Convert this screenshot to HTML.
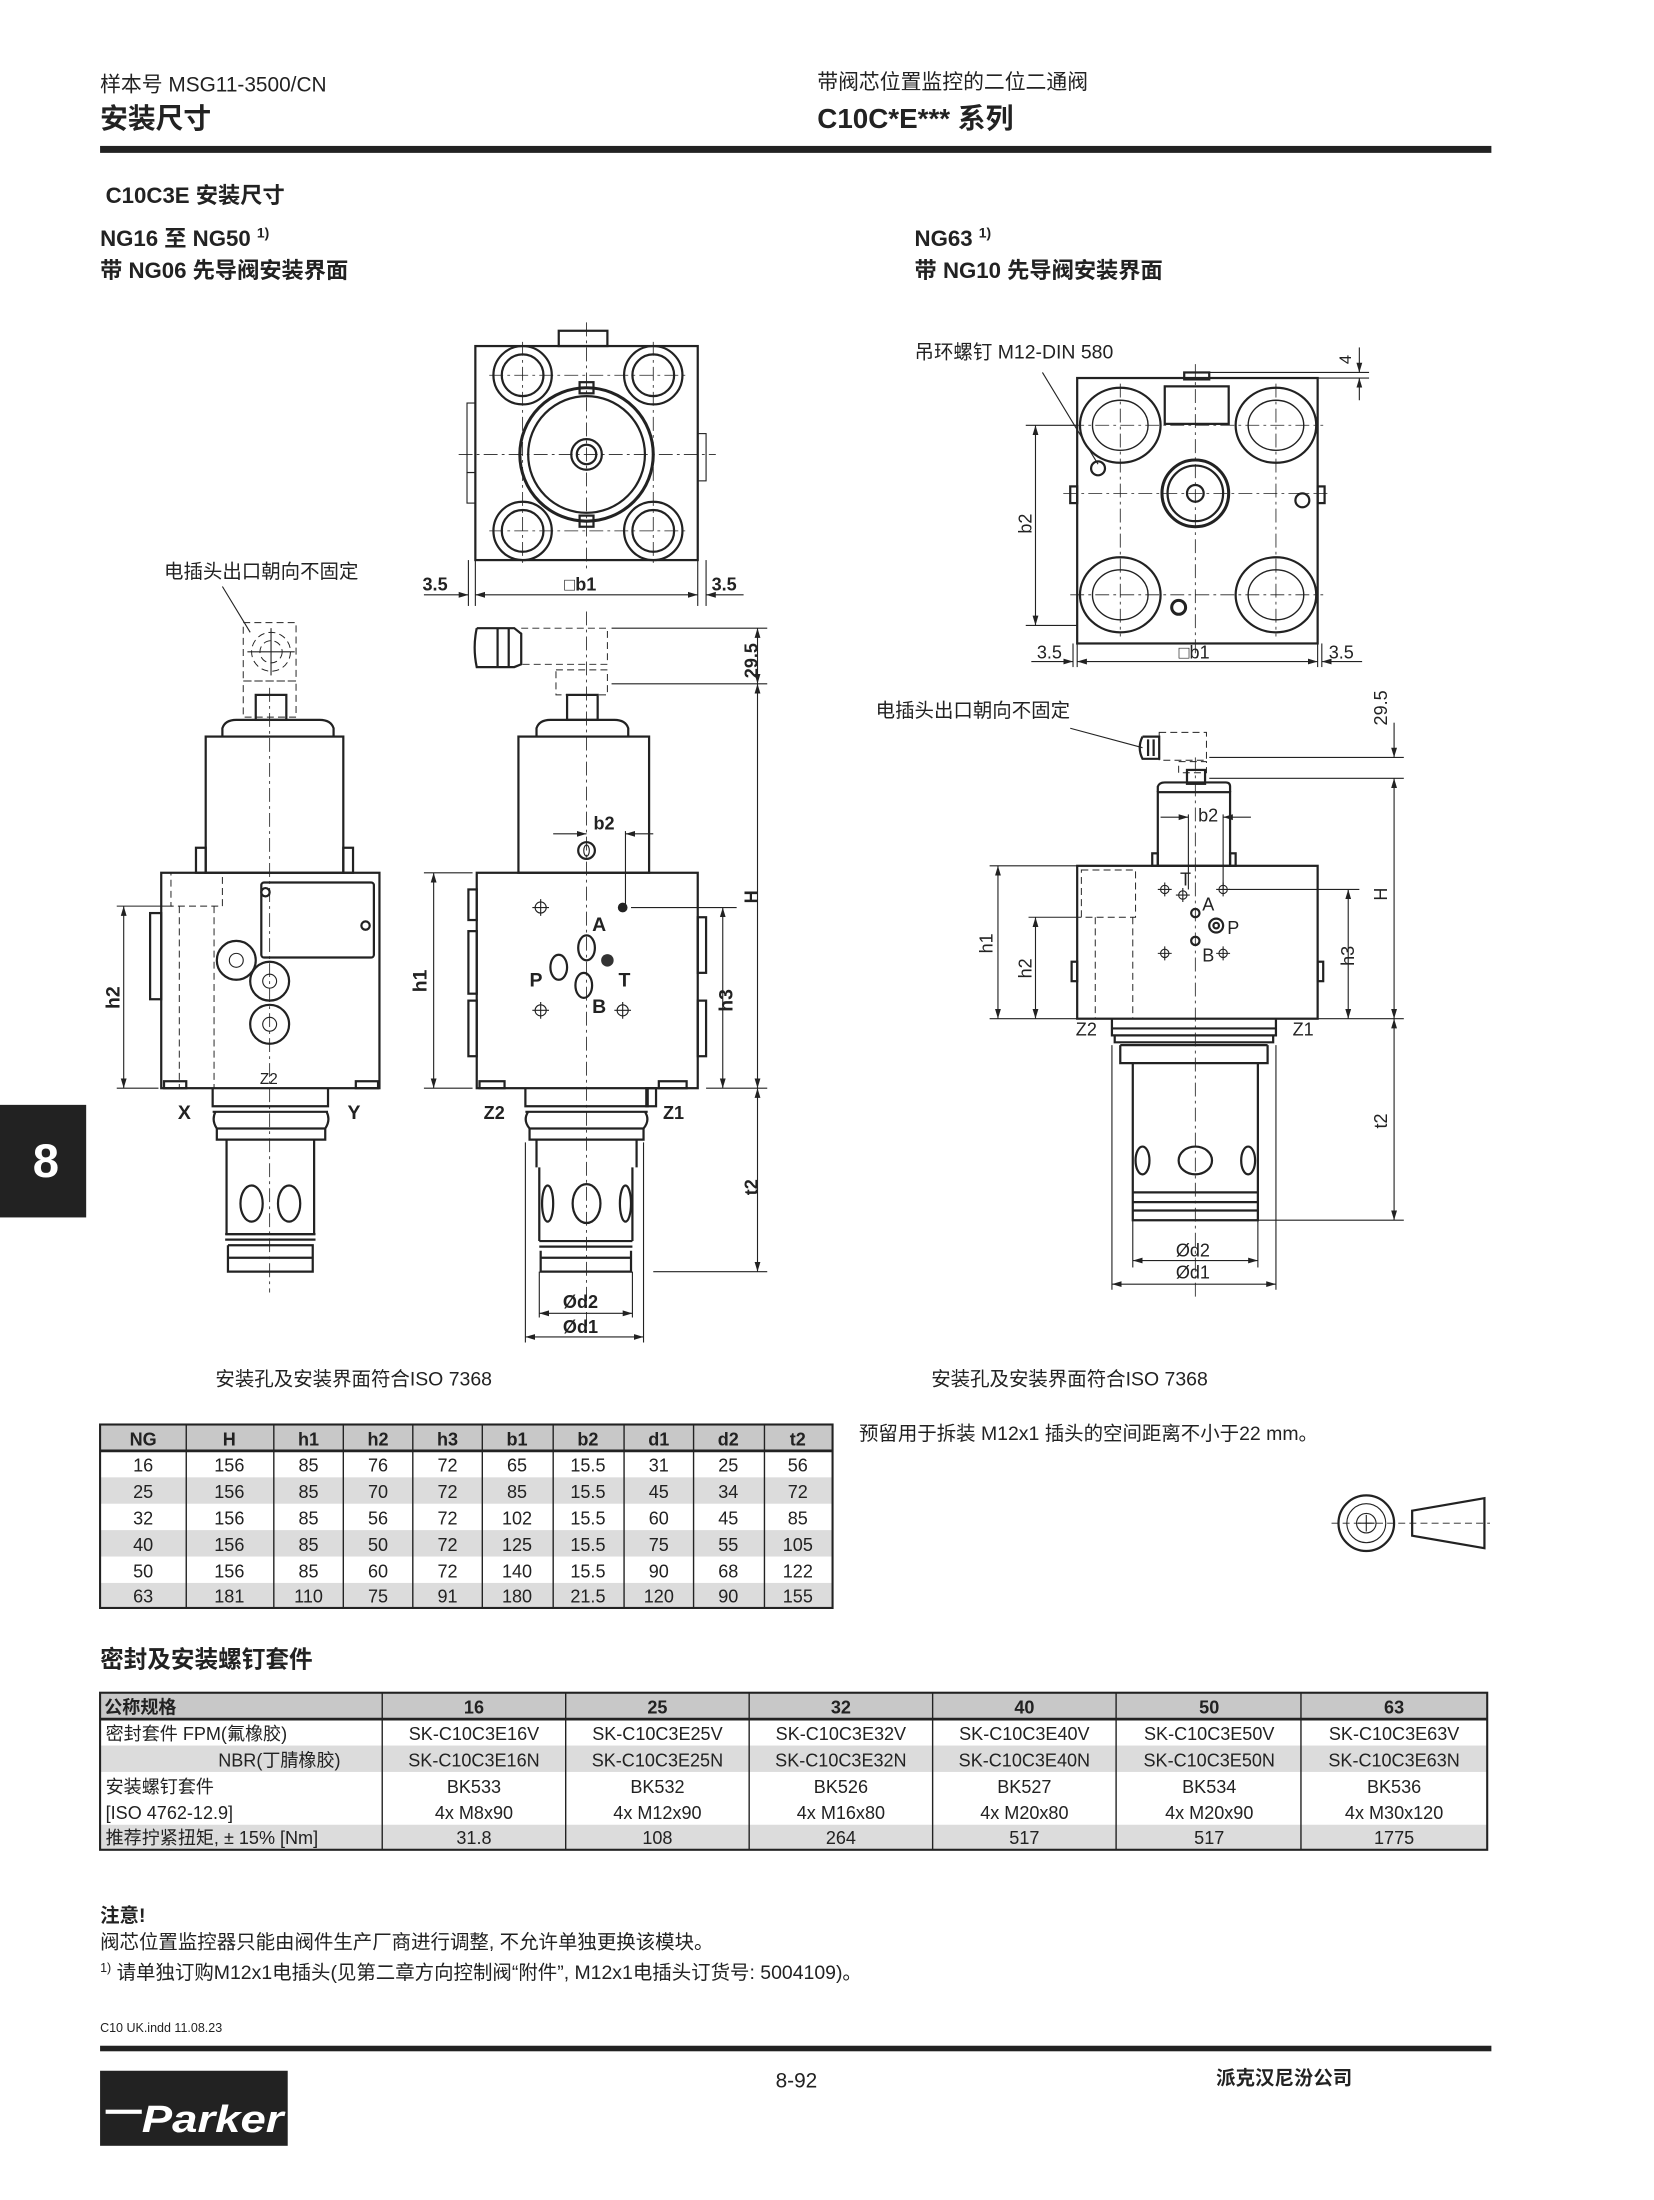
<!DOCTYPE html>
<html><head><meta charset="utf-8"><style>
html,body{margin:0;padding:0;background:#fff;}
svg{display:block;}
text{font-family:"Liberation Sans","Noto Sans CJK SC",sans-serif;fill:#222;}
.b{font-weight:bold;}
.o{fill:none;stroke:#222;stroke-width:1.6;}
.t{fill:none;stroke:#222;stroke-width:0.8;}
.d{fill:none;stroke:#222;stroke-width:0.7;stroke-dasharray:5 3;}
.c{fill:none;stroke:#222;stroke-width:0.6;stroke-dasharray:10 3 2 3;}
.tb text{font-size:13px;text-anchor:middle;}
</style></head><body>
<svg width="1654" height="2200" viewBox="0 0 1190 1583" preserveAspectRatio="none" xmlns="http://www.w3.org/2000/svg">
<defs>
<marker id="a" viewBox="0 0 10 10" refX="10" refY="5" markerWidth="7" markerHeight="7" orient="auto-start-reverse" markerUnits="userSpaceOnUse"><path d="M0,2 L10,5 L0,8z" fill="#222"/></marker>
</defs>
<!-- header -->
<text x="72" y="66" font-size="15">样本号 MSG11-3500/CN</text>
<text x="72" y="92" font-size="20" class="b">安装尺寸</text>
<text x="588" y="64" font-size="15">带阀芯位置监控的二位二通阀</text>
<text x="588" y="92" font-size="20" class="b">C10C*E*** 系列</text>
<rect x="72" y="105" width="1001" height="5" fill="#222"/>
<text x="76" y="146" font-size="16" class="b">C10C3E 安装尺寸</text>
<text x="72" y="177" font-size="16" class="b">NG16 至 NG50 <tspan font-size="10" dy="-6">1)</tspan></text>
<text x="72" y="200" font-size="16" class="b">带 NG06 先导阀安装界面</text>
<text x="658" y="177" font-size="16" class="b">NG63 <tspan font-size="10" dy="-6">1)</tspan></text>
<text x="658" y="200" font-size="16" class="b">带 NG10 先导阀安装界面</text>

<!-- LEFT TOP VIEW -->
<rect class="o" x="342" y="249" width="160" height="154"/>
<rect class="o" x="402" y="238" width="35" height="11"/>
<rect class="t" x="336" y="290" width="6" height="50"/><rect class="t" x="336" y="340" width="6" height="22"/>
<rect class="t" x="502" y="312" width="6" height="34"/>
<g class="o">
<circle cx="376" cy="270" r="21"/><circle cx="470" cy="270" r="21"/><circle cx="376" cy="382" r="21"/><circle cx="470" cy="382" r="21"/>
<circle cx="376" cy="270" r="15"/><circle cx="470" cy="270" r="15"/><circle cx="376" cy="382" r="15"/><circle cx="470" cy="382" r="15"/>
<circle cx="422" cy="327" r="48" stroke-width="2.2"/><circle cx="422" cy="327" r="42"/><circle cx="422" cy="327" r="11"/><circle cx="422" cy="327" r="7"/>
</g>
<rect class="o" x="417" y="275" width="10" height="8"/><rect class="o" x="417" y="371" width="10" height="8"/>
<line class="c" x1="422" y1="232" x2="422" y2="412"/><line class="c" x1="330" y1="327" x2="515" y2="327"/>
<line class="c" x1="352" y1="270" x2="494" y2="270"/><line class="c" x1="352" y1="382" x2="494" y2="382"/>
<line class="c" x1="376" y1="246" x2="376" y2="406"/><line class="c" x1="470" y1="246" x2="470" y2="406"/>
<g class="t"><line x1="337" y1="403" x2="337" y2="436"/><line x1="342" y1="403" x2="342" y2="436"/><line x1="502" y1="403" x2="502" y2="436"/><line x1="508" y1="403" x2="508" y2="436"/>
<line x1="305" y1="428" x2="337" y2="428" marker-end="url(#a)"/><line x1="342" y1="428" x2="502" y2="428" marker-start="url(#a)" marker-end="url(#a)"/><line x1="535" y1="428" x2="508" y2="428" marker-end="url(#a)"/></g>
<text x="304" y="425" font-size="13" class="b">3.5</text><text x="406" y="425" font-size="13" class="b">□b1</text><text x="512" y="425" font-size="13" class="b">3.5</text>

<!-- LEFT SIDE VIEW -->
<text x="118" y="416" font-size="14">电插头出口朝向不固定</text>
<line class="t" x1="160" y1="422" x2="180" y2="455"/>
<rect class="d" x="175" y="448" width="38" height="42"/><rect class="d" x="175" y="490" width="38" height="26"/>
<circle class="d" cx="195" cy="469" r="14"/><circle class="d" cx="195" cy="469" r="8"/>
<line class="t" x1="178" y1="469" x2="212" y2="469"/><line class="t" x1="195" y1="452" x2="195" y2="486"/>
<rect class="o" x="184" y="500" width="22" height="18"/>
<path class="o" d="M160,530 L160,524 Q162,518 170,518 L230,518 Q238,518 240,524 L240,530"/>
<rect class="o" x="148" y="530" width="99" height="98"/>
<rect class="o" x="141" y="610" width="7" height="18"/><rect class="o" x="247" y="610" width="7" height="18"/>
<rect class="o" x="116" y="628" width="157" height="155" stroke-width="2"/>
<rect class="o" x="108" y="657" width="8" height="62"/>
<rect class="d" x="123" y="628" width="37" height="24"/>
<line class="d" x1="129" y1="652" x2="129" y2="783"/><line class="d" x1="154" y1="652" x2="154" y2="783"/>
<rect class="o" x="188" y="635" width="81" height="54" rx="2"/>
<circle class="o" cx="191" cy="642" r="3"/><circle class="o" cx="263" cy="666" r="3"/>
<circle class="o" cx="170" cy="691" r="14" stroke-width="2"/><circle class="o" cx="194" cy="706" r="14" stroke-width="2"/><circle class="o" cx="194" cy="737" r="14" stroke-width="2"/>
<circle class="t" cx="170" cy="691" r="5"/><circle class="t" cx="194" cy="706" r="5"/><circle class="t" cx="194" cy="737" r="5"/>
<rect class="o" x="118" y="778" width="16" height="5"/><rect class="o" x="256" y="778" width="16" height="5"/>
<text x="187" y="780" font-size="11">Z2</text>
<line class="c" x1="194" y1="495" x2="194" y2="930"/>
<g class="t"><line x1="84" y1="652" x2="124" y2="652"/><line x1="84" y1="783" x2="114" y2="783"/>
<line x1="89" y1="652" x2="89" y2="783" marker-start="url(#a)" marker-end="url(#a)"/></g>
<text transform="translate(86,726) rotate(-90)" font-size="14" class="b">h2</text>
<!-- cartridge left -->
<path class="o" d="M153,783 L153,796 L236,796 L236,783 M153,800 L236,800 M155,800 Q152,806 156,812 L156,820 L234,820 L234,812 Q238,806 235,800 M156,812 L234,812"/>
<path class="o" d="M163,820 L163,888 L226,888 L226,820"/>
<ellipse class="o" cx="181" cy="866" rx="8" ry="13"/><ellipse class="o" cx="208" cy="866" rx="8" ry="13"/>
<path class="o" d="M162,888 L227,888 M162,892 L227,892 M164,896 L164,915 L225,915 L225,896 L164,896 M164,905 L225,905"/>
<text x="128" y="805" font-size="14" class="b">X</text><text x="250" y="805" font-size="14" class="b">Y</text>

<!-- MIDDLE FRONT VIEW -->
<path class="o" d="M343,452 L370,452 L375,456 L375,478 L370,480 L343,480 Q340,466 343,452 M358,452 L358,480 M366,452 L366,480"/>
<rect class="d" x="375" y="452" width="62" height="26"/><rect class="d" x="400" y="482" width="37" height="18"/>
<rect class="o" x="408" y="500" width="22" height="18"/>
<path class="o" d="M386,530 L386,524 Q388,518 396,518 L442,518 Q450,518 452,524 L452,530"/>
<rect class="o" x="373" y="530" width="94" height="98"/>
<circle class="o" cx="422" cy="612" r="6"/><ellipse class="t" cx="422" cy="612" rx="2" ry="4"/>
<rect class="o" x="343" y="628" width="159" height="155" stroke-width="2"/>
<rect class="o" x="337" y="640" width="6" height="22"/><rect class="o" x="337" y="670" width="6" height="45"/><rect class="o" x="337" y="720" width="6" height="40"/>
<rect class="o" x="502" y="660" width="6" height="40"/><rect class="o" x="502" y="720" width="6" height="40"/>
<rect class="o" x="345" y="778" width="18" height="5"/><rect class="o" x="474" y="778" width="20" height="5"/>
<circle class="t" cx="389" cy="653" r="4"/><path class="t" d="M383,653 h12 M389,647 v12"/>
<circle cx="448" cy="653" r="3.5" fill="#222"/>
<circle class="t" cx="389" cy="727" r="4"/><path class="t" d="M383,727 h12 M389,721 v12"/>
<circle class="t" cx="448" cy="727" r="4"/><path class="t" d="M442,727 h12 M448,721 v12"/>
<ellipse class="o" cx="422" cy="682" rx="6" ry="9"/><ellipse class="o" cx="402" cy="696" rx="6" ry="9"/>
<ellipse class="o" cx="420" cy="709" rx="6" ry="9"/><circle cx="437" cy="691" r="4.5" fill="#333"/>
<text x="426" y="670" font-size="14" class="b">A</text><text x="381" y="710" font-size="14" class="b">P</text>
<text x="445" y="710" font-size="14" class="b">T</text><text x="426" y="729" font-size="14" class="b">B</text>
<line class="c" x1="422" y1="440" x2="422" y2="960"/>
<g class="t"><line x1="450" y1="598" x2="450" y2="653"/><line x1="398" y1="600" x2="422" y2="600" marker-end="url(#a)"/><line x1="470" y1="600" x2="450" y2="600" marker-end="url(#a)"/>
<line x1="454" y1="653" x2="530" y2="653"/>
<line x1="440" y1="452" x2="552" y2="452"/><line x1="440" y1="492" x2="552" y2="492"/><line x1="470" y1="915" x2="552" y2="915"/>
<line x1="545" y1="452" x2="545" y2="492" marker-start="url(#a)" marker-end="url(#a)"/>
<line x1="545" y1="492" x2="545" y2="783" marker-start="url(#a)" marker-end="url(#a)"/>
<line x1="545" y1="783" x2="545" y2="915" marker-start="url(#a)" marker-end="url(#a)"/>
<line x1="508" y1="783" x2="552" y2="783"/>
<line x1="305" y1="628" x2="340" y2="628"/><line x1="305" y1="783" x2="340" y2="783"/>
<line x1="312" y1="628" x2="312" y2="783" marker-start="url(#a)" marker-end="url(#a)"/>
<line x1="520" y1="653" x2="520" y2="783" marker-start="url(#a)" marker-end="url(#a)"/></g>
<text x="427" y="597" font-size="13" class="b">b2</text>
<text transform="translate(545,488) rotate(-90)" font-size="13" class="b">29.5</text>
<text transform="translate(545,650) rotate(-90)" font-size="13" class="b">H</text>
<text transform="translate(545,860) rotate(-90)" font-size="13" class="b">t2</text>
<text transform="translate(307,714) rotate(-90)" font-size="14" class="b">h1</text>
<text transform="translate(527,728) rotate(-90)" font-size="14" class="b">h3</text>
<path class="o" d="M378,783 L378,796 L466,796 L466,783 M378,800 L466,800 M380,800 Q376,806 381,812 L381,820 L463,820 L463,812 Q468,806 464,800 M381,812 L463,812"/>
<rect class="o" x="465" y="783" width="7" height="13"/>
<path class="o" d="M386,820 L386,840 M458,820 L458,840 M388,840 L388,893 M455,840 L455,893"/>
<ellipse class="o" cx="394" cy="866" rx="4" ry="13"/><ellipse class="o" cx="422" cy="866" rx="10" ry="14"/><ellipse class="o" cx="450" cy="866" rx="4" ry="13"/>
<path class="o" d="M388,893 L455,893 M388,897 L455,897 M389,900 L389,915 L454,915 L454,900 M389,905 L454,905"/>
<text x="348" y="805" font-size="13" class="b">Z2</text><text x="477" y="805" font-size="13" class="b">Z1</text>
<g class="t"><line x1="378" y1="822" x2="378" y2="966"/><line x1="463" y1="822" x2="463" y2="966"/><line x1="388" y1="915" x2="388" y2="948"/><line x1="455" y1="915" x2="455" y2="948"/>
<line x1="388" y1="945" x2="455" y2="945" marker-start="url(#a)" marker-end="url(#a)"/>
<line x1="378" y1="962" x2="463" y2="962" marker-start="url(#a)" marker-end="url(#a)"/></g>
<text x="405" y="941" font-size="13" class="b">Ød2</text><text x="405" y="959" font-size="13" class="b">Ød1</text>
<text x="155" y="997" font-size="14">安装孔及安装界面符合ISO 7368</text>

<!-- RIGHT TOP VIEW -->
<text x="658" y="258" font-size="14">吊环螺钉 M12-DIN 580</text>
<line class="t" x1="750" y1="268" x2="790" y2="334"/>
<rect class="o" x="775" y="272" width="173" height="191" stroke-width="2"/>
<rect class="o" x="852" y="268" width="18" height="5"/>
<rect class="o" x="838" y="278" width="46" height="27"/>
<g class="o">
<ellipse cx="806" cy="306" rx="29" ry="27"/><ellipse cx="918" cy="306" rx="29" ry="27"/><ellipse cx="806" cy="428" rx="29" ry="27"/><ellipse cx="918" cy="428" rx="29" ry="27"/>
<ellipse cx="806" cy="306" rx="20" ry="18" stroke-width="1"/><ellipse cx="918" cy="306" rx="20" ry="18" stroke-width="1"/><ellipse cx="806" cy="428" rx="20" ry="18" stroke-width="1"/><ellipse cx="918" cy="428" rx="20" ry="18" stroke-width="1"/>
<circle cx="860" cy="355" r="24" stroke-width="2.2"/><circle cx="860" cy="355" r="20"/><circle cx="860" cy="355" r="6"/>
<circle cx="790" cy="337" r="5"/><circle cx="937" cy="360" r="5"/><circle cx="848" cy="437" r="5" stroke-width="2.2"/>
</g>
<rect class="o" x="770" y="350" width="5" height="12"/><rect class="o" x="948" y="350" width="5" height="12"/>
<line class="c" x1="860" y1="262" x2="860" y2="472"/><line class="c" x1="765" y1="355" x2="958" y2="355"/>
<line class="c" x1="770" y1="306" x2="952" y2="306"/><line class="c" x1="770" y1="428" x2="952" y2="428"/>
<line class="c" x1="806" y1="276" x2="806" y2="458"/><line class="c" x1="918" y1="276" x2="918" y2="458"/>
<g class="t"><line x1="870" y1="268" x2="985" y2="268"/><line x1="948" y1="272" x2="985" y2="272"/>
<line x1="978" y1="250" x2="978" y2="268" marker-end="url(#a)"/><line x1="978" y1="288" x2="978" y2="272" marker-end="url(#a)"/>
<line x1="738" y1="306" x2="775" y2="306"/><line x1="738" y1="450" x2="775" y2="450"/>
<line x1="745" y1="306" x2="745" y2="450" marker-start="url(#a)" marker-end="url(#a)"/>
<line x1="772" y1="463" x2="772" y2="480"/><line x1="775" y1="463" x2="775" y2="480"/><line x1="948" y1="463" x2="948" y2="480"/><line x1="951" y1="463" x2="951" y2="480"/>
<line x1="742" y1="476" x2="772" y2="476" marker-end="url(#a)"/><line x1="775" y1="476" x2="948" y2="476" marker-start="url(#a)" marker-end="url(#a)"/><line x1="980" y1="476" x2="951" y2="476" marker-end="url(#a)"/></g>
<text transform="translate(972,262) rotate(-90)" font-size="12">4</text>
<text transform="translate(742,384) rotate(-90)" font-size="13">b2</text>
<text x="746" y="474" font-size="13">3.5</text><text x="848" y="474" font-size="13">□b1</text><text x="956" y="474" font-size="13">3.5</text>

<!-- RIGHT SIDE VIEW -->
<text x="630" y="516" font-size="14">电插头出口朝向不固定</text>
<line class="t" x1="770" y1="524" x2="822" y2="538"/>
<path class="o" d="M822,530 L834,530 L834,546 L822,546 Q818,538 822,530 M826,532 v12 M830,532 v12"/>
<rect class="d" x="834" y="527" width="34" height="20"/><rect class="d" x="848" y="548" width="20" height="8"/>
<rect class="o" x="854" y="554" width="13" height="10"/>
<path class="o" d="M833,570 L833,566 Q834,563 838,563 L882,563 Q885,563 885,566 L885,570"/>
<rect class="o" x="833" y="570" width="52" height="53"/>
<rect class="o" x="829" y="614" width="4" height="9"/><rect class="o" x="885" y="614" width="4" height="9"/>
<rect class="o" x="775" y="623" width="173" height="110" stroke-width="2"/>
<rect class="o" x="771" y="692" width="4" height="14"/><rect class="o" x="948" y="692" width="4" height="14"/>
<rect class="d" x="778" y="626" width="39" height="34"/><line class="d" x1="788" y1="660" x2="788" y2="733"/><line class="d" x1="815" y1="660" x2="815" y2="733"/>
<g class="t"><circle cx="838" cy="640" r="3"/><path d="M833,640 h10 M838,635 v10"/><circle cx="851" cy="644" r="3"/><path d="M846,644 h10 M851,639 v10"/>
<circle cx="880" cy="640" r="3"/><path d="M875,640 h10 M880,635 v10"/><circle cx="838" cy="686" r="3"/><path d="M833,686 h10 M838,681 v10"/>
<circle cx="880" cy="686" r="3"/><path d="M875,686 h10 M880,681 v10"/></g>
<circle class="o" cx="860" cy="657" r="3"/><circle class="o" cx="875" cy="666" r="5"/><circle class="o" cx="875" cy="666" r="2"/><circle class="o" cx="860" cy="677" r="3"/>
<text x="849" y="637" font-size="13">T</text><text x="865" y="655" font-size="13">A</text><text x="883" y="672" font-size="13">P</text><text x="865" y="692" font-size="13">B</text>
<line class="c" x1="860" y1="545" x2="860" y2="935"/>
<path class="o" d="M800,733 L800,745 L918,745 L918,733 M800,740 L918,740 M802,745 L802,750 L916,750 L916,745 M806,752 L806,765 L912,765 L912,752 M806,752 L912,752"/>
<path class="o" d="M815,765 L815,878 L905,878 L905,765 M815,858 L905,858 M815,865 L905,865 M815,871 L905,871"/>
<ellipse class="o" cx="822" cy="835" rx="5" ry="10"/><ellipse class="o" cx="860" cy="835" rx="12" ry="10"/><ellipse class="o" cx="898" cy="835" rx="5" ry="10"/>
<text x="774" y="745" font-size="13">Z2</text><text x="930" y="745" font-size="13">Z1</text>
<g class="t"><line x1="870" y1="545" x2="1010" y2="545"/><line x1="870" y1="560" x2="1010" y2="560"/><line x1="884" y1="640" x2="978" y2="640"/>
<line x1="712" y1="623" x2="775" y2="623"/><line x1="740" y1="660" x2="778" y2="660"/><line x1="712" y1="733" x2="775" y2="733"/><line x1="948" y1="733" x2="1010" y2="733"/><line x1="905" y1="878" x2="1010" y2="878"/>
<line x1="1003" y1="520" x2="1003" y2="545" marker-end="url(#a)"/><line x1="1003" y1="560" x2="1003" y2="733" marker-start="url(#a)" marker-end="url(#a)"/>
<line x1="1003" y1="733" x2="1003" y2="878" marker-start="url(#a)" marker-end="url(#a)"/>
<line x1="718" y1="623" x2="718" y2="733" marker-start="url(#a)" marker-end="url(#a)"/>
<line x1="745" y1="660" x2="745" y2="733" marker-start="url(#a)" marker-end="url(#a)"/>
<line x1="970" y1="640" x2="970" y2="733" marker-start="url(#a)" marker-end="url(#a)"/>
<line x1="855" y1="586" x2="855" y2="640"/><line x1="880" y1="586" x2="880" y2="640"/>
<line x1="835" y1="588" x2="855" y2="588" marker-end="url(#a)"/><line x1="900" y1="588" x2="880" y2="588" marker-end="url(#a)"/>
<line x1="800" y1="752" x2="800" y2="928"/><line x1="918" y1="752" x2="918" y2="928"/>
<line x1="815" y1="878" x2="815" y2="912"/><line x1="905" y1="878" x2="905" y2="912"/>
<line x1="815" y1="907" x2="905" y2="907" marker-start="url(#a)" marker-end="url(#a)"/>
<line x1="800" y1="924" x2="918" y2="924" marker-start="url(#a)" marker-end="url(#a)"/></g>
<text x="862" y="591" font-size="13">b2</text>
<text transform="translate(998,522) rotate(-90)" font-size="13">29.5</text>
<text transform="translate(998,648) rotate(-90)" font-size="13">H</text>
<text transform="translate(998,812) rotate(-90)" font-size="13">t2</text>
<text transform="translate(714,686) rotate(-90)" font-size="13">h1</text>
<text transform="translate(742,704) rotate(-90)" font-size="13">h2</text>
<text transform="translate(974,695) rotate(-90)" font-size="13">h3</text>
<text x="846" y="904" font-size="13">Ød2</text><text x="846" y="920" font-size="13">Ød1</text>
<text x="670" y="997" font-size="14">安装孔及安装界面符合ISO 7368</text>

<!-- tab 8 -->
<rect x="0" y="795" width="62" height="81" fill="#222"/>
<text x="33" y="847" font-size="34" class="b" text-anchor="middle" style="fill:#fff">8</text>

<!-- table 1 -->
<g class="tb">
<rect x="72" y="1025" width="527" height="19" fill="#c8c8c8"/>
<rect x="72" y="1063" width="527" height="19" fill="#dcdcdc"/>
<rect x="72" y="1101" width="527" height="19" fill="#dcdcdc"/>
<rect x="72" y="1139" width="527" height="18" fill="#dcdcdc"/>
<rect x="72" y="1025" width="527" height="132" fill="none" stroke="#222" stroke-width="1.5"/>
<line x1="72" y1="1044" x2="599" y2="1044" stroke="#222" stroke-width="2"/>
<g stroke="#222" stroke-width="1"><line x1="134" y1="1025" x2="134" y2="1157"/><line x1="197" y1="1025" x2="197" y2="1157"/><line x1="247" y1="1025" x2="247" y2="1157"/><line x1="297" y1="1025" x2="297" y2="1157"/><line x1="347" y1="1025" x2="347" y2="1157"/><line x1="398" y1="1025" x2="398" y2="1157"/><line x1="449" y1="1025" x2="449" y2="1157"/><line x1="499" y1="1025" x2="499" y2="1157"/><line x1="550" y1="1025" x2="550" y2="1157"/></g>
<g class="b"><text x="103" y="1040" class="b">NG</text><text x="165" y="1040" class="b">H</text><text x="222" y="1040" class="b">h1</text><text x="272" y="1040" class="b">h2</text><text x="322" y="1040" class="b">h3</text><text x="372" y="1040" class="b">b1</text><text x="423" y="1040" class="b">b2</text><text x="474" y="1040" class="b">d1</text><text x="524" y="1040" class="b">d2</text><text x="574" y="1040" class="b">t2</text></g>
<text x="103" y="1059">16</text><text x="165" y="1059">156</text><text x="222" y="1059">85</text><text x="272" y="1059">76</text><text x="322" y="1059">72</text><text x="372" y="1059">65</text><text x="423" y="1059">15.5</text><text x="474" y="1059">31</text><text x="524" y="1059">25</text><text x="574" y="1059">56</text>
<text x="103" y="1078">25</text><text x="165" y="1078">156</text><text x="222" y="1078">85</text><text x="272" y="1078">70</text><text x="322" y="1078">72</text><text x="372" y="1078">85</text><text x="423" y="1078">15.5</text><text x="474" y="1078">45</text><text x="524" y="1078">34</text><text x="574" y="1078">72</text>
<text x="103" y="1097">32</text><text x="165" y="1097">156</text><text x="222" y="1097">85</text><text x="272" y="1097">56</text><text x="322" y="1097">72</text><text x="372" y="1097">102</text><text x="423" y="1097">15.5</text><text x="474" y="1097">60</text><text x="524" y="1097">45</text><text x="574" y="1097">85</text>
<text x="103" y="1116">40</text><text x="165" y="1116">156</text><text x="222" y="1116">85</text><text x="272" y="1116">50</text><text x="322" y="1116">72</text><text x="372" y="1116">125</text><text x="423" y="1116">15.5</text><text x="474" y="1116">75</text><text x="524" y="1116">55</text><text x="574" y="1116">105</text>
<text x="103" y="1135">50</text><text x="165" y="1135">156</text><text x="222" y="1135">85</text><text x="272" y="1135">60</text><text x="322" y="1135">72</text><text x="372" y="1135">140</text><text x="423" y="1135">15.5</text><text x="474" y="1135">90</text><text x="524" y="1135">68</text><text x="574" y="1135">122</text>
<text x="103" y="1153">63</text><text x="165" y="1153">181</text><text x="222" y="1153">110</text><text x="272" y="1153">75</text><text x="322" y="1153">91</text><text x="372" y="1153">180</text><text x="423" y="1153">21.5</text><text x="474" y="1153">120</text><text x="524" y="1153">90</text><text x="574" y="1153">155</text>
</g>

<text x="618" y="1036" font-size="14">预留用于拆装 M12x1 插头的空间距离不小于22 mm。</text>
<circle class="o" cx="983" cy="1096" r="20"/><circle class="t" cx="983" cy="1096" r="14"/><circle class="t" cx="983" cy="1096" r="7"/>
<path class="t" d="M977,1096 h12 M983,1090 v12"/>
<path class="o" d="M1016,1087 L1068,1078 L1068,1114 L1016,1105 Z"/>
<line class="d" x1="958" y1="1096" x2="1072" y2="1096"/>

<!-- table 2 -->
<text x="72" y="1200" font-size="17" class="b">密封及安装螺钉套件</text>
<g class="tb">
<rect x="72" y="1218" width="998" height="19" fill="#c8c8c8"/>
<rect x="72" y="1256" width="998" height="19" fill="#dcdcdc"/>
<rect x="72" y="1313" width="998" height="18" fill="#dcdcdc"/>
<rect x="72" y="1218" width="998" height="113" fill="none" stroke="#222" stroke-width="1.5"/>
<line x1="72" y1="1237" x2="1070" y2="1237" stroke="#222" stroke-width="2"/>
<g stroke="#222" stroke-width="1"><line x1="275" y1="1218" x2="275" y2="1331"/><line x1="407" y1="1218" x2="407" y2="1331"/><line x1="539" y1="1218" x2="539" y2="1331"/><line x1="671" y1="1218" x2="671" y2="1331"/><line x1="803" y1="1218" x2="803" y2="1331"/><line x1="936" y1="1218" x2="936" y2="1331"/></g>
<text x="75" y="1233" class="b" style="text-anchor:start">公称规格</text>
<text x="341" y="1233" class="b">16</text><text x="473" y="1233" class="b">25</text><text x="605" y="1233" class="b">32</text><text x="737" y="1233" class="b">40</text><text x="870" y="1233" class="b">50</text><text x="1003" y="1233" class="b">63</text>
<text x="76" y="1252" style="text-anchor:start">密封套件    FPM(氟橡胶)</text>
<text x="341" y="1252">SK-C10C3E16V</text><text x="473" y="1252">SK-C10C3E25V</text><text x="605" y="1252">SK-C10C3E32V</text><text x="737" y="1252">SK-C10C3E40V</text><text x="870" y="1252">SK-C10C3E50V</text><text x="1003" y="1252">SK-C10C3E63V</text>
<text x="157" y="1271" style="text-anchor:start">NBR(丁腈橡胶)</text>
<text x="341" y="1271">SK-C10C3E16N</text><text x="473" y="1271">SK-C10C3E25N</text><text x="605" y="1271">SK-C10C3E32N</text><text x="737" y="1271">SK-C10C3E40N</text><text x="870" y="1271">SK-C10C3E50N</text><text x="1003" y="1271">SK-C10C3E63N</text>
<text x="76" y="1290" style="text-anchor:start">安装螺钉套件</text>
<text x="341" y="1290">BK533</text><text x="473" y="1290">BK532</text><text x="605" y="1290">BK526</text><text x="737" y="1290">BK527</text><text x="870" y="1290">BK534</text><text x="1003" y="1290">BK536</text>
<text x="76" y="1309" style="text-anchor:start">[ISO 4762-12.9]</text>
<text x="341" y="1309">4x M8x90</text><text x="473" y="1309">4x M12x90</text><text x="605" y="1309">4x M16x80</text><text x="737" y="1309">4x M20x80</text><text x="870" y="1309">4x M20x90</text><text x="1003" y="1309">4x M30x120</text>
<text x="76" y="1327" style="text-anchor:start">推荐拧紧扭矩, ± 15%  [Nm]</text>
<text x="341" y="1327">31.8</text><text x="473" y="1327">108</text><text x="605" y="1327">264</text><text x="737" y="1327">517</text><text x="870" y="1327">517</text><text x="1003" y="1327">1775</text>
</g>

<!-- notes -->
<text x="72" y="1383" font-size="14" class="b">注意!</text>
<text x="72" y="1402" font-size="14">阀芯位置监控器只能由阀件生产厂商进行调整, 不允许单独更换该模块。</text>
<text x="72" y="1424" font-size="14"><tspan font-size="9" dy="-5">1)</tspan><tspan dy="5"> 请单独订购M12x1电插头(见第二章方向控制阀“附件”, M12x1电插头订货号: 5004109)。</tspan></text>
<text x="72" y="1462" font-size="9">C10 UK.indd  11.08.23</text>
<rect x="72" y="1472" width="1001" height="4" fill="#222"/>
<text x="573" y="1502" font-size="15" text-anchor="middle">8-92</text>
<text x="875" y="1500" font-size="14" class="b">派克汉尼汾公司</text>
<rect x="72" y="1490" width="135" height="54" fill="#222"/>
<rect x="76" y="1518" width="26" height="3" fill="#fff"/>
<text x="102" y="1534" font-size="27" font-style="italic" class="b" style="fill:#fff" textLength="102" lengthAdjust="spacingAndGlyphs">Parker</text>
</svg>
</body></html>
